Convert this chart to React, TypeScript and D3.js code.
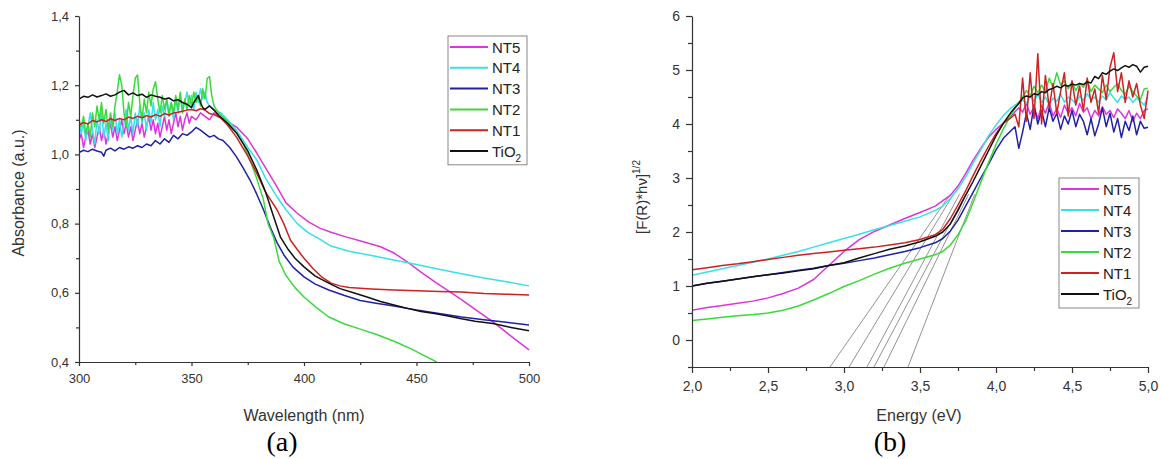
import React, { useEffect, useRef } from "react";
import * as d3 from "d3";

type P = [number, number];

const seriesNames = ["NT5", "NT4", "NT3", "NT2", "NT1", "TiO2"];
const seriesColors = ["#dd35dd", "#38e0e8", "#2020a8", "#3ada3a", "#cc2222", "#111111"];

// ---- (a) Absorbance vs wavelength ----
const absNT5: P[] = [
  [300,1.04],[301,1.06],[302,1.02],[303,1.05],[304,1.07],[305,1.03],[306,1.06],[307,1.02],[308,1.05],[309,1.08],
  [310,1.04],[311,1.07],[312,1.03],[313,1.06],[314,1.09],[315,1.05],[316,1.08],[317,1.04],[318,1.07],[319,1.10],
  [320,1.06],[321,1.09],[322,1.05],[323,1.08],[324,1.04],[325,1.07],[326,1.10],[327,1.06],[328,1.09],[329,1.05],
  [330,1.08],[331,1.11],[332,1.07],[333,1.10],[334,1.06],[335,1.09],[336,1.05],[337,1.08],[338,1.11],[339,1.07],
  [340,1.10],[341,1.06],[342,1.09],[343,1.12],[344,1.08],[345,1.11],[346,1.07],[347,1.10],[348,1.12],[349,1.09],
  [350,1.11],[352,1.10],[354,1.12],[356,1.11],[358,1.10],[360,1.12],[362,1.11],[365,1.10],[370,1.079],[375,1.045],
  [379,1.004],[383,0.96],[388,0.906],[392,0.86],[397,0.83],[402,0.805],[407,0.787],[412,0.775],[419,0.761],[426,0.748],
  [434,0.733],[440,0.715],[446,0.689],[452,0.66],[458,0.632],[464,0.606],[470,0.58],[477,0.548],[484,0.516],[492,0.475],[500,0.435],
];
const absNT4: P[] = [
  [300,1.10],[301,1.06],[302,1.09],[303,1.04],[304,1.08],[305,1.12],[306,1.07],[307,1.03],[308,1.10],[309,1.06],
  [310,1.13],[311,1.05],[312,1.09],[313,1.04],[314,1.11],[315,1.07],[316,1.12],[317,1.06],[318,1.10],[319,1.05],
  [320,1.09],[321,1.13],[322,1.07],[323,1.11],[324,1.06],[325,1.12],[326,1.08],[327,1.14],[328,1.09],[329,1.12],
  [330,1.07],[331,1.13],[332,1.09],[333,1.15],[334,1.10],[335,1.13],[336,1.08],[337,1.14],[338,1.11],[339,1.16],
  [340,1.12],[341,1.15],[342,1.10],[343,1.16],[344,1.12],[345,1.17],[346,1.13],[347,1.15],[348,1.18],[349,1.14],
  [350,1.17],[351,1.13],[352,1.18],[353,1.15],[354,1.19],[355,1.16],[356,1.18],[357,1.15],[358,1.14],[360,1.13],
  [363,1.12],[366,1.10],[370,1.07],[375,1.02],[379,0.984],[383,0.93],[388,0.877],[392,0.84],[397,0.80],[402,0.773],
  [407,0.755],[412,0.735],[420,0.72],[430,0.708],[440,0.695],[450,0.682],[460,0.668],[470,0.655],[480,0.643],[490,0.632],[500,0.62],
];
const absNT3: P[] = [
  [300,1.005],[302,1.012],[304,1.008],[306,1.015],[308,1.010],[310,1.006],[311,0.995],[312,1.012],[314,1.018],[316,1.010],
  [318,1.020],[320,1.015],[322,1.022],[324,1.018],[326,1.025],[328,1.020],[330,1.030],[332,1.025],[334,1.040],[336,1.030],
  [338,1.045],[340,1.035],[342,1.055],[344,1.045],[346,1.060],[348,1.055],[350,1.065],[352,1.078],[354,1.070],[356,1.060],
  [358,1.050],[360,1.055],[362,1.045],[364,1.040],[367,1.020],[370,0.993],[373,0.960],[376,0.926],[379,0.885],[382,0.840],
  [385,0.79],[388,0.745],[391,0.71],[395,0.675],[400,0.646],[405,0.625],[411,0.608],[418,0.592],[425,0.578],[432,0.570],
  [440,0.562],[450,0.550],[460,0.540],[470,0.530],[480,0.522],[490,0.515],[500,0.507],
];
const absNT2: P[] = [
  [300,1.10],[301,1.08],[302,1.11],[303,1.06],[304,1.09],[305,1.05],[306,1.12],[307,1.08],[308,1.14],[309,1.10],
  [310,1.15],[311,1.09],[312,1.13],[313,1.07],[314,1.12],[315,1.08],[316,1.14],[317,1.18],[318,1.23],[319,1.20],
  [320,1.12],[321,1.08],[322,1.15],[323,1.11],[324,1.17],[325,1.22],[326,1.23],[327,1.15],[328,1.10],[329,1.16],
  [330,1.12],[331,1.18],[332,1.14],[333,1.19],[334,1.21],[335,1.16],[336,1.12],[337,1.17],[338,1.13],[339,1.16],
  [340,1.11],[341,1.15],[342,1.12],[343,1.17],[344,1.13],[345,1.18],[346,1.12],[347,1.16],[348,1.13],[349,1.17],
  [350,1.14],[351,1.18],[352,1.15],[353,1.17],[354,1.14],[355,1.19],[356,1.16],[357,1.22],[358,1.225],[359,1.17],
  [360,1.14],[362,1.12],[366,1.095],[370,1.062],[373,1.03],[376,0.984],[379,0.93],[382,0.868],[384,0.80],[386.5,0.76],
  [389,0.69],[392,0.65],[396,0.615],[400,0.588],[405,0.56],[411,0.53],[418,0.51],[425,0.495],[432,0.48],[440,0.46],
  [447,0.44],[453,0.42],[459,0.40],
];
const absNT1: P[] = [
  [300,1.085],[302,1.092],[304,1.088],[306,1.098],[308,1.094],[310,1.100],[312,1.095],[314,1.103],[316,1.098],[318,1.104],
  [320,1.100],[322,1.108],[324,1.104],[326,1.110],[328,1.106],[330,1.112],[332,1.108],[334,1.115],[336,1.110],[338,1.118],
  [340,1.114],[342,1.120],[344,1.122],[346,1.125],[348,1.128],[350,1.130],[352,1.126],[354,1.132],[356,1.128],[358,1.118],
  [360,1.115],[363,1.105],[366,1.085],[370,1.050],[375,0.995],[379,0.946],[383,0.890],[388,0.840],[391,0.800],[394,0.752],
  [397,0.725],[400,0.700],[404,0.670],[408,0.645],[412,0.628],[416,0.620],[420,0.615],[430,0.611],[440,0.608],[450,0.606],
  [460,0.604],[470,0.602],[480,0.598],[490,0.596],[500,0.594],
];
const absTiO2: P[] = [
  [300,1.160],[302,1.168],[304,1.165],[306,1.172],[308,1.166],[310,1.170],[312,1.175],[314,1.168],[316,1.172],[318,1.180],
  [320,1.185],[322,1.172],[324,1.178],[326,1.170],[328,1.174],[330,1.165],[332,1.172],[334,1.168],[336,1.165],[338,1.160],
  [340,1.163],[342,1.155],[344,1.158],[346,1.150],[348,1.145],[350,1.135],[351,1.150],[352,1.160],[353,1.170],[354,1.150],
  [355,1.135],[356,1.130],[358,1.140],[360,1.128],[362,1.113],[366,1.090],[370,1.062],[375,1.010],[379,0.955],[383,0.890],
  [386,0.830],[389.6,0.760],[393,0.725],[396,0.700],[400,0.675],[405,0.648],[411,0.628],[416,0.612],[422,0.600],[428,0.588],
  [434,0.575],[440,0.565],[446,0.555],[452,0.546],[458,0.540],[464,0.533],[470,0.525],[476,0.518],[484,0.511],[492,0.500],[500,0.490],
];
const absSeries = [absNT5, absNT4, absNT3, absNT2, absNT1, absTiO2];

// ---- (b) Tauc plot vs energy ----
const kmNT5: P[] = [
  [2.0,0.55],[2.1,0.60],[2.2,0.64],[2.3,0.68],[2.4,0.72],[2.5,0.78],[2.6,0.86],[2.7,0.96],[2.8,1.12],[2.9,1.38],
  [3.0,1.64],[3.1,1.86],[3.2,2.01],[3.3,2.13],[3.4,2.25],[3.5,2.36],[3.6,2.48],[3.65,2.58],[3.7,2.68],[3.75,2.85],
  [3.8,3.08],[3.85,3.33],[3.9,3.55],[3.95,3.75],[4.0,3.90],[4.05,4.02],[4.1,4.15],[4.15,4.30],
  [4.175,4.22],[4.2,4.38],[4.225,4.18],[4.25,4.32],[4.275,4.10],[4.3,4.35],[4.325,4.20],[4.35,4.40],[4.375,4.15],[4.4,4.28],
  [4.425,4.12],[4.45,4.35],[4.475,4.20],[4.5,4.30],[4.525,4.15],[4.55,4.38],[4.575,4.22],[4.6,4.30],[4.625,4.10],[4.65,4.25],
  [4.675,4.15],[4.7,4.32],[4.725,4.18],[4.75,4.25],[4.775,4.12],[4.8,4.28],[4.825,4.20],[4.85,4.10],[4.875,4.25],[4.9,4.05],
  [4.925,4.20],[4.95,4.10],[4.975,4.25],[5.0,4.28],
];
const kmNT4: P[] = [
  [2.0,1.20],[2.1,1.26],[2.2,1.32],[2.3,1.38],[2.4,1.44],[2.5,1.50],[2.6,1.57],[2.7,1.64],[2.8,1.72],[2.9,1.80],
  [3.0,1.88],[3.1,1.96],[3.2,2.04],[3.3,2.12],[3.4,2.20],[3.5,2.28],[3.6,2.40],[3.65,2.48],[3.7,2.62],[3.75,2.80],
  [3.8,3.02],[3.85,3.28],[3.9,3.52],[3.95,3.78],[4.0,3.98],[4.05,4.16],[4.1,4.30],[4.15,4.40],
  [4.175,4.45],[4.2,4.38],[4.225,4.52],[4.25,4.42],[4.275,4.55],[4.3,4.40],[4.325,4.50],[4.35,4.36],[4.375,4.48],[4.4,4.42],
  [4.425,4.55],[4.45,4.40],[4.475,4.50],[4.5,4.45],[4.525,4.38],[4.55,4.52],[4.575,4.44],[4.6,4.56],[4.625,4.46],[4.65,4.50],
  [4.675,4.40],[4.7,4.52],[4.725,4.45],[4.75,4.58],[4.775,4.48],[4.8,4.40],[4.825,4.52],[4.85,4.45],[4.875,4.50],[4.9,4.40],
  [4.925,4.48],[4.95,4.42],[4.975,4.35],[5.0,4.50],
];
const kmNT3: P[] = [
  [2.0,1.00],[2.1,1.05],[2.2,1.09],[2.3,1.13],[2.4,1.17],[2.5,1.21],[2.6,1.25],[2.7,1.29],[2.8,1.33],[2.9,1.38],
  [3.0,1.42],[3.1,1.47],[3.2,1.52],[3.3,1.58],[3.4,1.64],[3.5,1.71],[3.6,1.80],[3.65,1.88],[3.7,2.02],[3.75,2.22],
  [3.8,2.48],[3.85,2.74],[3.9,3.00],[3.95,3.25],[4.0,3.52],[4.05,3.74],[4.1,3.88],[4.125,3.95],[4.15,3.55],[4.175,3.85],
  [4.2,4.20],[4.225,3.90],[4.25,4.35],[4.275,4.00],[4.3,4.25],[4.325,3.95],[4.35,4.30],[4.375,4.05],[4.4,4.20],[4.425,3.90],
  [4.45,4.15],[4.475,4.00],[4.5,4.25],[4.525,3.95],[4.55,4.18],[4.575,4.05],[4.6,3.80],[4.625,4.10],[4.65,3.78],[4.675,4.00],
  [4.7,4.30],[4.725,3.95],[4.75,4.20],[4.775,3.85],[4.8,4.10],[4.825,3.75],[4.85,4.05],[4.875,3.88],[4.9,4.15],[4.925,3.80],
  [4.95,4.05],[4.975,3.92],[5.0,3.94],
];
const kmNT2: P[] = [
  [2.0,0.36],[2.1,0.39],[2.2,0.42],[2.3,0.45],[2.4,0.47],[2.5,0.50],[2.6,0.55],[2.7,0.63],[2.8,0.74],[2.9,0.86],
  [3.0,0.99],[3.1,1.10],[3.2,1.22],[3.3,1.33],[3.4,1.42],[3.5,1.50],[3.6,1.58],[3.65,1.64],[3.7,1.76],[3.75,1.95],
  [3.8,2.20],[3.85,2.55],[3.9,2.92],[3.95,3.28],[4.0,3.62],[4.05,3.92],[4.1,4.18],[4.15,4.40],
  [4.175,4.50],[4.2,4.62],[4.225,4.52],[4.25,4.70],[4.275,4.58],[4.3,4.72],[4.325,4.60],[4.35,4.85],[4.375,4.68],[4.4,4.95],
  [4.425,4.72],[4.45,4.80],[4.475,4.65],[4.5,4.78],[4.525,4.62],[4.55,4.75],[4.575,4.68],[4.6,4.82],[4.625,4.60],[4.65,4.72],
  [4.675,4.65],[4.7,4.58],[4.725,4.72],[4.75,4.60],[4.775,4.68],[4.8,4.75],[4.825,4.62],[4.85,4.55],[4.875,4.70],[4.9,4.60],
  [4.925,4.52],[4.95,4.45],[4.975,4.65],[5.0,4.66],
];
const kmNT1: P[] = [
  [2.0,1.30],[2.1,1.34],[2.2,1.38],[2.3,1.41],[2.4,1.45],[2.5,1.49],[2.6,1.53],[2.7,1.57],[2.8,1.60],[2.9,1.63],
  [3.0,1.66],[3.1,1.69],[3.2,1.72],[3.3,1.76],[3.4,1.80],[3.5,1.86],[3.6,1.95],[3.65,2.05],[3.7,2.25],[3.75,2.50],
  [3.8,2.76],[3.85,3.05],[3.9,3.32],[3.95,3.58],[4.0,3.82],[4.05,4.02],[4.1,4.12],[4.125,4.18],
  [4.15,3.95],[4.175,4.85],[4.2,4.05],[4.225,4.95],[4.25,4.10],[4.275,5.30],[4.3,4.00],[4.325,4.90],[4.35,4.30],[4.375,4.75],
  [4.4,4.20],[4.425,4.60],[4.45,4.95],[4.475,4.15],[4.5,4.80],[4.525,4.35],[4.55,4.70],[4.575,4.25],[4.6,4.85],[4.625,4.40],
  [4.65,4.65],[4.675,4.20],[4.7,4.90],[4.725,4.45],[4.75,5.05],[4.775,5.32],[4.8,4.60],[4.825,4.95],[4.85,4.40],[4.875,4.80],
  [4.9,4.50],[4.925,4.75],[4.95,4.35],[4.975,4.10],[5.0,4.62],
];
const kmTiO2: P[] = [
  [2.0,1.00],[2.1,1.05],[2.2,1.09],[2.3,1.13],[2.4,1.17],[2.5,1.21],[2.6,1.24],[2.7,1.28],[2.8,1.32],[2.9,1.38],
  [3.0,1.43],[3.1,1.52],[3.2,1.60],[3.3,1.68],[3.4,1.74],[3.5,1.82],[3.6,1.92],[3.65,2.00],[3.7,2.15],[3.75,2.40],
  [3.8,2.68],[3.85,2.94],[3.9,3.22],[3.95,3.50],[4.0,3.78],[4.05,4.02],[4.1,4.22],[4.15,4.38],
  [4.175,4.48],[4.2,4.52],[4.225,4.50],[4.25,4.56],[4.275,4.54],[4.3,4.60],[4.325,4.58],[4.35,4.64],[4.375,4.66],[4.4,4.70],
  [4.425,4.67],[4.45,4.72],[4.475,4.70],[4.5,4.74],[4.525,4.72],[4.55,4.75],[4.575,4.73],[4.6,4.78],[4.625,4.76],[4.65,4.88],
  [4.675,4.84],[4.7,4.95],[4.725,4.92],[4.75,4.98],[4.775,5.02],[4.8,4.99],[4.825,5.04],[4.85,5.08],[4.875,5.05],[4.9,5.10],
  [4.925,5.07],[4.95,4.96],[4.975,5.05],[5.0,5.07],
];
const kmSeries = [kmNT5, kmNT4, kmNT3, kmNT2, kmNT1, kmTiO2];

// tangent (band-gap extrapolation) lines: [E0, v0, E1, v1]
const tangentLines: [number, number, number, number][] = [
  [2.908, -0.5, 3.70, 2.7],
  [3.033, -0.5, 3.72, 2.7],
  [3.151, -0.5, 3.76, 2.7],
  [3.197, -0.5, 3.80, 2.7],
  [3.263, -0.5, 3.82, 2.7],
  [3.421, -0.5, 3.86, 2.7],
];

const FONT = "'Liberation Sans', Arial, sans-serif";
const SERIF = "'Liberation Serif', 'Times New Roman', serif";
const comma1 = (d: number) => d.toFixed(1).replace(".", ",");

export default function App() {
  const ref = useRef<SVGSVGElement | null>(null);

  useEffect(() => {
    const svg = d3.select(ref.current);
    svg.selectAll("*").remove();
    const axisColor = "#333";

    const styleAxis = (g: any, fs: number) => {
      g.select(".domain").attr("stroke", axisColor).attr("stroke-width", 1.2);
      g.selectAll(".tick line").attr("stroke", axisColor).attr("stroke-width", 1.2);
      g.selectAll(".tick text").attr("fill", "#333").style("font-family", FONT).style("font-size", fs + "px");
    };

    const legend = (x0: number, y0: number, w: number, rowH: number) => {
      const g = svg.append("g");
      g.append("rect").attr("x", x0).attr("y", y0).attr("width", w).attr("height", rowH * 6 + 4)
        .attr("fill", "white").attr("stroke", "#888").attr("stroke-width", 1);
      seriesNames.forEach((n, i) => {
        const cy = y0 + 11 + i * rowH;
        g.append("line").attr("x1", x0 + 2).attr("x2", x0 + 40).attr("y1", cy).attr("y2", cy)
          .attr("stroke", seriesColors[i]).attr("stroke-width", 2);
        const t = g.append("text").attr("x", x0 + 44).attr("y", cy + 5.5).attr("fill", "#222")
          .style("font-family", FONT).style("font-size", "15px");
        if (n === "TiO2") {
          t.append("tspan").text("TiO");
          t.append("tspan").attr("dy", 5).style("font-size", "10px").text("2");
        } else t.text(n);
      });
    };

    // ===== Chart (a) =====
    const xA = d3.scaleLinear().domain([300, 500]).range([79, 529]);
    const yA = d3.scaleLinear().domain([0.4, 1.4]).range([362, 16]);
    svg.append("defs").append("clipPath").attr("id", "clipA").append("rect")
      .attr("x", 79).attr("y", 10).attr("width", 455).attr("height", 352);

    const lineA = d3.line<P>().x(d => xA(d[0])).y(d => yA(d[1]));
    const gA = svg.append("g").attr("clip-path", "url(#clipA)");
    absSeries.forEach((s, i) => {
      gA.append("path").attr("d", lineA(s)).attr("fill", "none").attr("stroke", seriesColors[i])
        .attr("stroke-width", 1.5).attr("stroke-linejoin", "round");
    });

    const axAx = svg.append("g").attr("transform", "translate(0,362)")
      .call(d3.axisBottom(xA).tickValues([300, 350, 400, 450, 500]).tickSize(4).tickSizeOuter(0).tickPadding(8).tickFormat(d3.format("d") as any));
    styleAxis(axAx, 13);
    const axAxm = svg.append("g").attr("transform", "translate(0,362)")
      .call(d3.axisBottom(xA).tickValues([325, 375, 425, 475]).tickSize(3).tickSizeOuter(0).tickFormat(() => ""));
    styleAxis(axAxm, 13);
    axAxm.select(".domain").remove();
    const axAy = svg.append("g").attr("transform", "translate(79,0)")
      .call(d3.axisLeft(yA).tickValues([0.4, 0.6, 0.8, 1.0, 1.2, 1.4]).tickSize(4).tickSizeOuter(0).tickPadding(6).tickFormat(comma1 as any));
    styleAxis(axAy, 13);
    const axAym = svg.append("g").attr("transform", "translate(79,0)")
      .call(d3.axisLeft(yA).tickValues([0.5, 0.7, 0.9, 1.1, 1.3]).tickSize(3).tickSizeOuter(0).tickFormat(() => ""));
    styleAxis(axAym, 13);
    axAym.select(".domain").remove();

    svg.append("text").attr("transform", "translate(24,193) rotate(-90)").attr("text-anchor", "middle")
      .attr("fill", "#333").style("font-family", FONT).style("font-size", "16px").text("Absorbance (a.u.)");
    svg.append("text").attr("x", 304).attr("y", 421).attr("text-anchor", "middle")
      .attr("fill", "#333").style("font-family", FONT).style("font-size", "16px").text("Wavelength (nm)");
    svg.append("text").attr("x", 282).attr("y", 451).attr("text-anchor", "middle")
      .attr("fill", "#000").style("font-family", SERIF).style("font-size", "28px").text("(a)");

    legend(448, 36, 79, 20.8);

    // ===== Chart (b) =====
    const xB = d3.scaleLinear().domain([2, 5]).range([692, 1148]);
    const yB = d3.scaleLinear().domain([-0.5, 6]).range([367, 16]);
    const lineB = d3.line<P>().x(d => xB(d[0])).y(d => yB(d[1]));

    const gT = svg.append("g");
    tangentLines.forEach(t => {
      gT.append("line").attr("x1", xB(t[0])).attr("y1", yB(t[1])).attr("x2", xB(t[2])).attr("y2", yB(t[3]))
        .attr("stroke", "#777").attr("stroke-width", 0.8);
    });
    const gB = svg.append("g");
    kmSeries.forEach((s, i) => {
      gB.append("path").attr("d", lineB(s)).attr("fill", "none").attr("stroke", seriesColors[i])
        .attr("stroke-width", 1.5).attr("stroke-linejoin", "round");
    });

    const axBx = svg.append("g").attr("transform", "translate(0,367)")
      .call(d3.axisBottom(xB).tickValues([2, 2.5, 3, 3.5, 4, 4.5, 5]).tickSize(6).tickSizeOuter(0).tickPadding(8).tickFormat(comma1 as any));
    styleAxis(axBx, 14);
    const axBxm = svg.append("g").attr("transform", "translate(0,367)")
      .call(d3.axisBottom(xB).tickValues([2.25, 2.75, 3.25, 3.75, 4.25, 4.75]).tickSize(4).tickSizeOuter(0).tickFormat(() => ""));
    styleAxis(axBxm, 14);
    axBxm.select(".domain").remove();
    const axBy = svg.append("g").attr("transform", "translate(692,0)")
      .call(d3.axisLeft(yB).tickValues([0, 1, 2, 3, 4, 5, 6]).tickSize(6).tickSizeOuter(0).tickPadding(6).tickFormat(d3.format("d") as any));
    styleAxis(axBy, 14);
    const axBym = svg.append("g").attr("transform", "translate(692,0)")
      .call(d3.axisLeft(yB).tickValues([-0.5, 0.5, 1.5, 2.5, 3.5, 4.5, 5.5]).tickSize(4).tickSizeOuter(0).tickFormat(() => ""));
    styleAxis(axBym, 14);
    axBym.select(".domain").remove();

    const yl = svg.append("text").attr("transform", "translate(647,197) rotate(-90)").attr("text-anchor", "middle")
      .attr("fill", "#333").style("font-family", FONT).style("font-size", "15px");
    yl.append("tspan").text("[F(R)*h\u03bd]");
    yl.append("tspan").attr("dy", -7).style("font-size", "10px").text("1/2");
    svg.append("text").attr("x", 919).attr("y", 421).attr("text-anchor", "middle")
      .attr("fill", "#333").style("font-family", FONT).style("font-size", "16px").text("Energy (eV)");
    svg.append("text").attr("x", 890).attr("y", 451).attr("text-anchor", "middle")
      .attr("fill", "#000").style("font-family", SERIF).style("font-size", "28px").text("(b)");

    legend(1059, 178, 80, 21);
  }, []);

  return (
    <svg ref={ref} width={1162} height={459} viewBox="0 0 1162 459"
      style={{ position: "absolute", left: 0, top: 0, background: "#fff" }} />
  );
}
